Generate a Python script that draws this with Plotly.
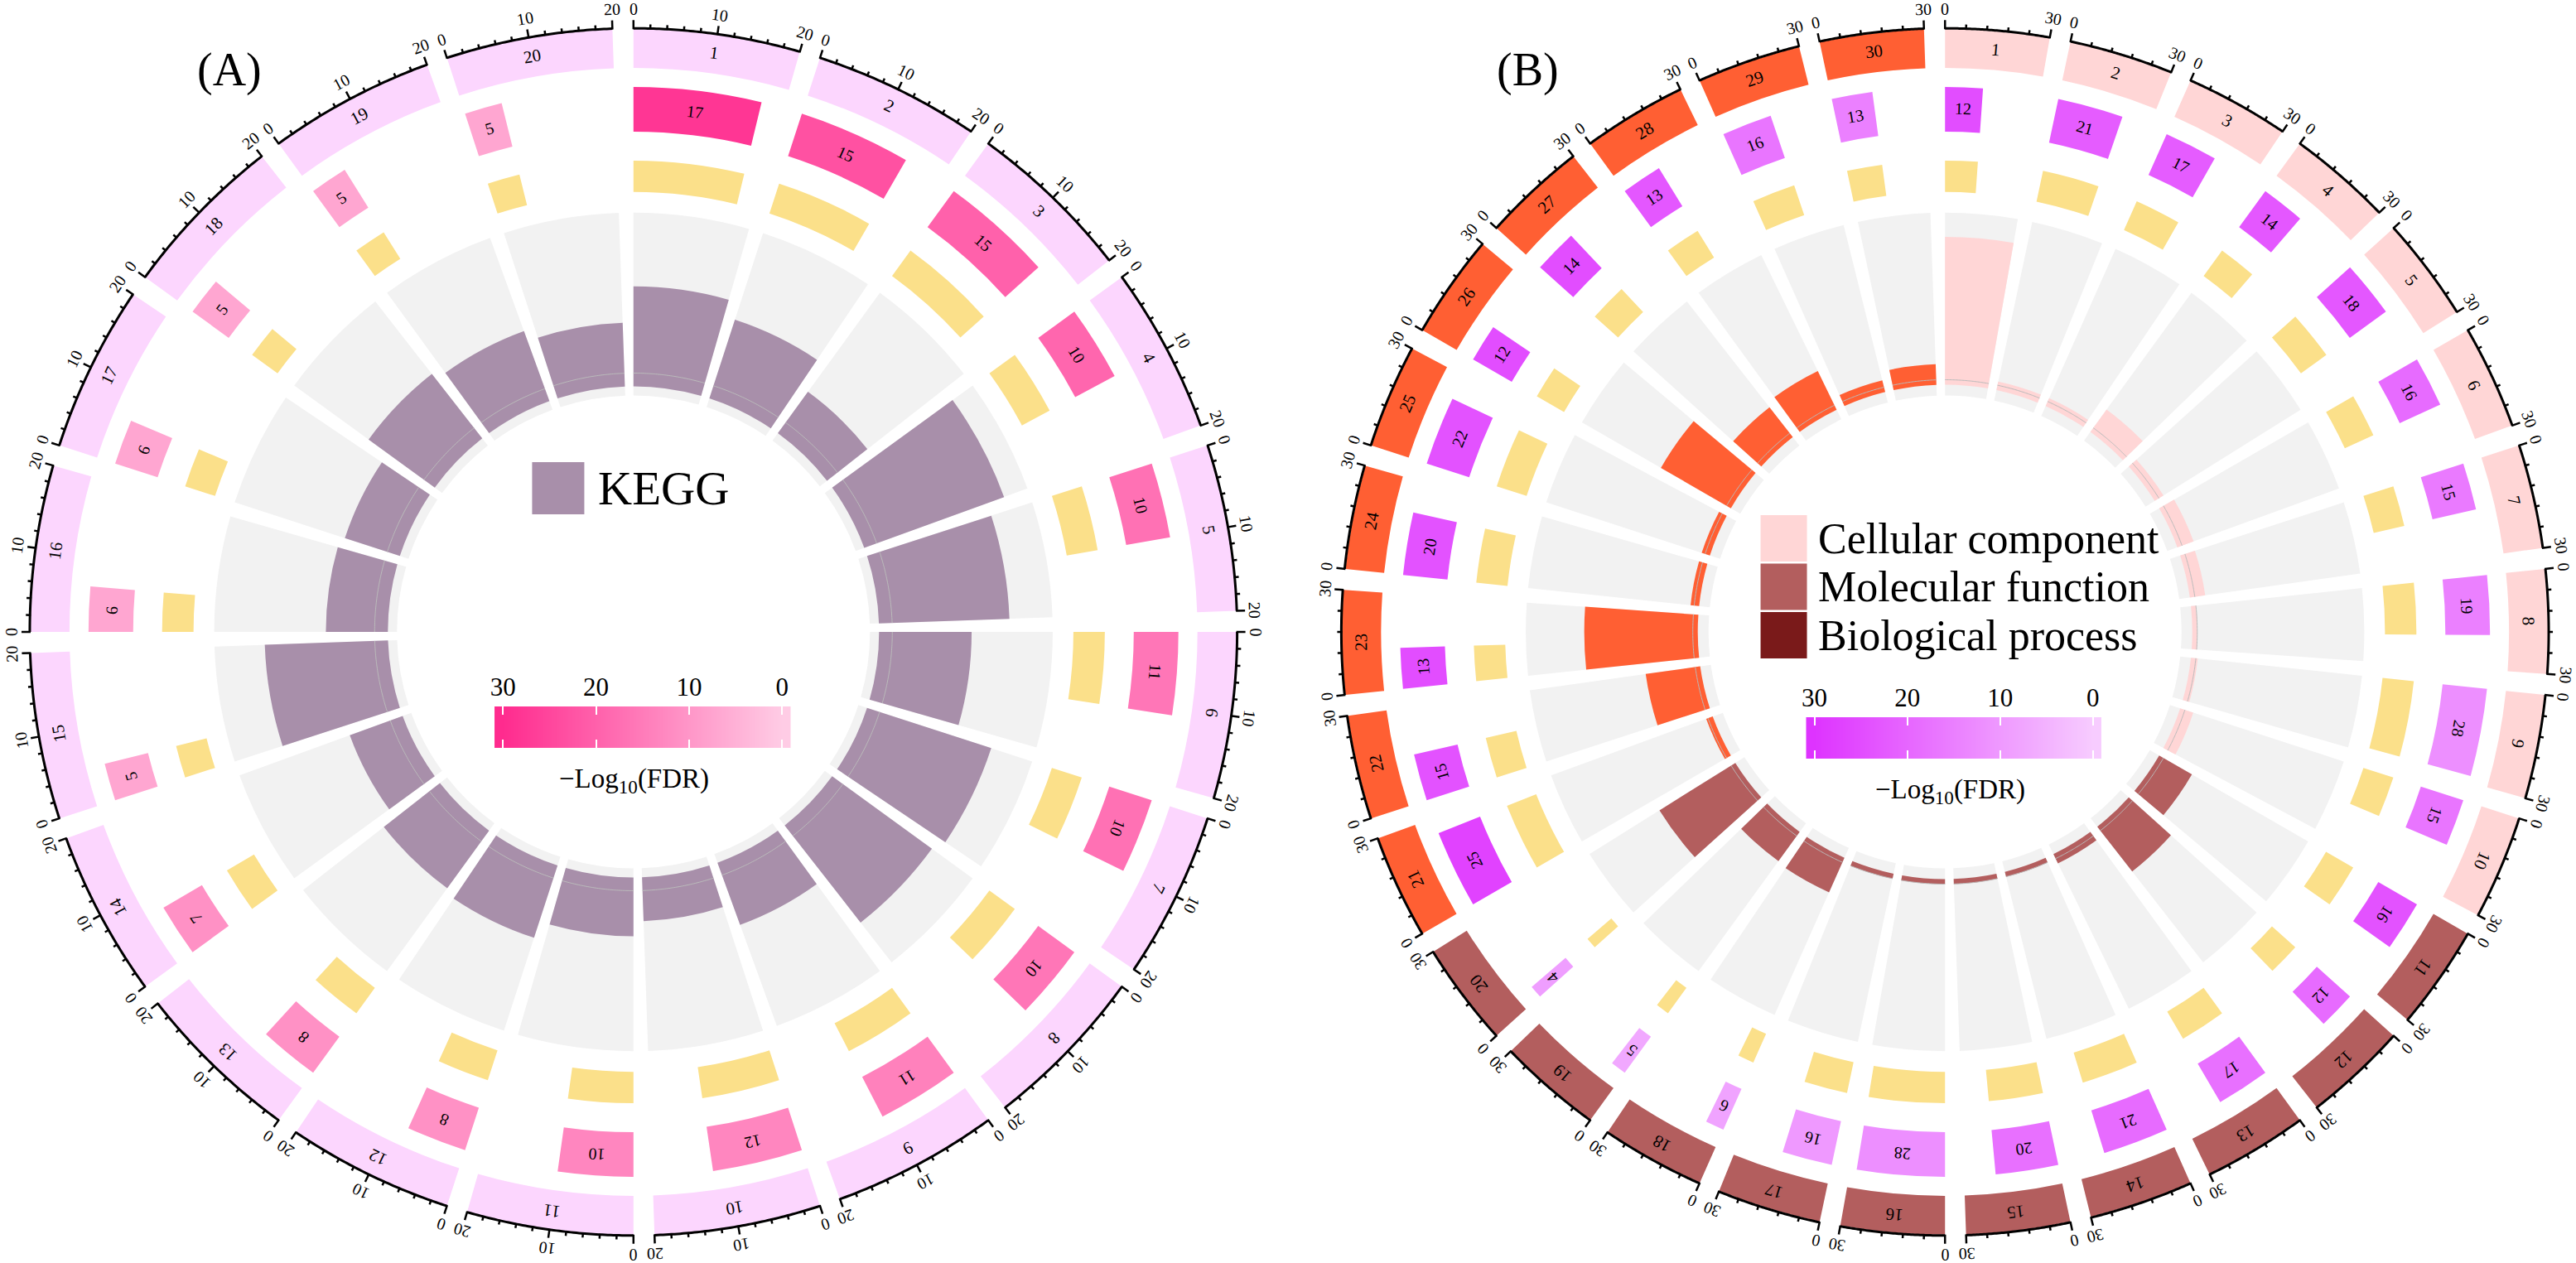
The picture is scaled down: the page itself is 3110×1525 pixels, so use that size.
import numpy as np
import plotly.graph_objects as go

W, H = 3110, 1525
FONT = "Liberation Serif"

# ---------------- data: panel A (KEGG) ----------------
a_terms = [str(i) for i in range(1, 21)]
a_count = [17, 15, 15, 10, 10, 11, 10, 10, 11, 12, 10, 8, 8, 7, 5, 6, 6, 5, 5, 5]
a_up = [17, 15, 15, 10, 10, 11, 10, 10, 11, 12, 10, 8, 8, 7, 5, 6, 6, 5, 5, 5]
a_fdr = [28, 23, 20, 19, 17, 16, 17, 16, 14, 13, 13, 11, 11, 11, 7, 7, 7, 7, 7, 7]
a_rich = [0.576, 0.476, 0.295, 0.857, 0.752, 0.533, 0.752, 0.710, 0.381, 0.252,
          0.338, 0.438, 0.410, 0.324, 0.710, 0.357, 0.333, 0.471, 0.429, 0.367]
a_axis_max = 20
a_tick_labels = [0, 10, 20]
a_tick_step = 2
a_legend = ["KEGG"]

# ---------------- data: panel B (GO) ----------------
b_terms = [str(i) for i in range(1, 31)]
b_class = ["Cellular component"] * 10 + ["Molecular function"] * 10 + ["Biological process"] * 10
b_count = [12, 21, 17, 14, 18, 16, 15, 19, 28, 15,
           16, 12, 17, 21, 20, 28, 16, 6, 5, 4,
           25, 15, 13, 20, 22, 12, 14, 13, 16, 13]
b_up = [12, 21, 17, 14, 18, 16, 15, 19, 28, 15,
        16, 12, 17, 21, 20, 28, 16, 6, 5, 4,
        25, 15, 13, 20, 22, 12, 14, 13, 16, 13]
b_fdr = [25, 22, 22, 23, 23, 19, 16, 15, 12, 17,
         24, 19, 18, 19, 18, 12, 10, 8, 7, 9,
         27, 24, 25, 24, 24, 25, 25, 23, 17, 15]
b_rich = [0.86, 0.05, 0.05, 0.16, 0.06, 0.10, 0.09, 0.03, 0.04, 0.08,
          0.22, 0.33, 0.06, 0.03, 0.03, 0.03, 0.03, 0.22, 0.21, 0.52,
          0.04, 0.32, 0.66, 0.05, 0.05, 0.47, 0.22, 0.25, 0.07, 0.12]
b_axis_max = 30
b_tick_labels = [0, 30]
b_tick_step = 6
b_legend = ["Cellular component", "Molecular function", "Biological process"]

fdr_ticks = [0, 10, 20, 30]

# ---------------- styling ----------------
A_BAND = "#FCD6FE"
A_PURPLE = "#A88FAA"
B_BAND = {"Cellular component": "#FFD6D6", "Molecular function": "#B35E5E",
          "Biological process": "#FF5F33"}
B_LEGEND = {"Cellular component": "#FFD6D6", "Molecular function": "#B35E5E",
            "Biological process": "#7A1A1A"}
YELLOW = "#FBE08A"
TRACK = "#F2F2F2"
A_SCALE = [[0, "#FFCCE5"], [1, "#FF2B8E"]]
B_SCALE = [[0, "#F7CCFF"], [1, "#DE33FF"]]

CY = 763
A_CX, B_CX = 761, 2347
R = 760
GAP = 2.0
R_AXIS = 730
R_BAND = (682, 729)
R_CNT = (605, 659)
R_UP = (532, 570)
R_TRACK = (286, 507)
R_TICKLAB = 752
R_BANDLAB = 706
R_CNTLAB = 632

fig = go.Figure()
annotations = []


def ang(t):
    t = float(t) % 360
    return t if t <= 180 else t - 360


def xy(theta, r):
    t = np.radians(theta)
    return float(r * np.sin(t)), float(r * np.cos(t))


def add_text(xa, ya, theta, r, text, size):
    x, y = xy(theta, r)
    annotations.append(dict(x=x, y=y, xref=xa, yref=ya, text=text, showarrow=False,
                            textangle=ang(theta), xanchor="center", yanchor="middle",
                            font=dict(family=FONT, size=size, color="black")))


def add_panel(sub, xa, ya, terms, band_colors, count, up, fdr, rich, rich_colors,
              axis_max, tick_labels, tick_step, cscale, bar_base, line_r):
    n = len(terms)
    step = 360.0 / n
    span = step - GAP
    starts = np.arange(n) * step
    centers = starts + span / 2
    cw = np.array(count) / axis_max * span
    uw = np.array(up) / axis_max * span

    def bp(theta, width, base, r, marker):
        marker = dict(marker)
        marker["line"] = dict(width=0)
        fig.add_trace(go.Barpolar(theta=list(theta), width=list(width), base=list(base),
                                  r=list(r), subplot=sub, marker=marker,
                                  hoverinfo="skip", showlegend=False))

    # outer band
    bp(centers, [span] * n, [R_BAND[0]] * n, [R_BAND[1] - R_BAND[0]] * n,
       dict(color=band_colors))
    # gene count bars coloured by -log10(FDR)
    bp(starts + cw / 2, cw, [R_CNT[0]] * n, [R_CNT[1] - R_CNT[0]] * n,
       dict(color=fdr, colorscale=cscale, cmin=0, cmax=30))
    # up-regulated bars
    bp(starts + uw / 2, uw, [R_UP[0]] * n, [R_UP[1] - R_UP[0]] * n, dict(color=YELLOW))
    # track background
    bp(centers, [span] * n, [R_TRACK[0]] * n, [R_TRACK[1] - R_TRACK[0]] * n,
       dict(color=TRACK))
    # rich-factor bars
    hh = np.array(rich) * (R_TRACK[1] - bar_base)
    bp(centers, [span] * n, [bar_base] * n, hh, dict(color=rich_colors))

    # thin baseline arcs
    th, rr = [], []
    for s in starts:
        t = np.linspace(s, s + span, 40)
        th += list(t) + [None]
        rr += [line_r] * 40 + [None]
    fig.add_trace(go.Scatterpolar(theta=th, r=rr, mode="lines", subplot=sub,
                                  line=dict(color="#BBBBBB", width=1),
                                  hoverinfo="skip", showlegend=False))
    # axis arcs
    th, rr = [], []
    for s in starts:
        t = np.linspace(s, s + span, 60)
        th += list(t) + [None]
        rr += [R_AXIS] * 60 + [None]
    fig.add_trace(go.Scatterpolar(theta=th, r=rr, mode="lines", subplot=sub,
                                  line=dict(color="black", width=3),
                                  hoverinfo="skip", showlegend=False))
    # ticks
    th, rr = [], []
    for s in starts:
        for v in range(0, axis_max + 1, tick_step):
            t = s + v / axis_max * span
            ln = 10 if v in tick_labels else 5
            th += [t, t, None]
            rr += [R_AXIS - 1, R_AXIS + ln, None]
        for v in tick_labels:
            add_text(xa, ya, s + v / axis_max * span, R_TICKLAB, str(v), 20)
    fig.add_trace(go.Scatterpolar(theta=th, r=rr, mode="lines", subplot=sub,
                                  line=dict(color="black", width=2.5),
                                  hoverinfo="skip", showlegend=False))
    # labels
    for i in range(n):
        add_text(xa, ya, centers[i], R_BANDLAB, terms[i], 21)
        add_text(xa, ya, starts[i] + cw[i] / 2, R_CNTLAB, str(count[i]), 20)


add_panel("polar", "x", "y", a_terms, [A_BAND] * len(a_terms), a_count, a_up, a_fdr,
          a_rich, [A_PURPLE] * len(a_terms), a_axis_max, a_tick_labels, a_tick_step,
          A_SCALE, 297, 313)
add_panel("polar2", "x2", "y2", b_terms, [B_BAND[c] for c in b_class], b_count, b_up,
          b_fdr, b_rich, [B_BAND[c] for c in b_class], b_axis_max, b_tick_labels,
          b_tick_step, B_SCALE, 299, 305)

# ---------------- legends (inside the circles) ----------------
fig.add_trace(go.Scatter(x=[670 - A_CX], y=[CY - 589.5], mode="markers", xaxis="x", yaxis="y",
                         marker=dict(symbol="square", size=63, color=A_PURPLE,
                                     line=dict(width=0)),
                         hoverinfo="skip", showlegend=False))
annotations.append(dict(x=716 - A_CX, y=CY - 589.5, xref="x", yref="y", text=a_legend[0],
                        showarrow=False, xanchor="left", yanchor="middle",
                        font=dict(family=FONT, size=57, color="black")))

b_leg_y = [650, 708.5, 767]
fig.add_trace(go.Scatter(x=[2152 - B_CX] * 3, y=[CY - v for v in b_leg_y], mode="markers",
                         xaxis="x2", yaxis="y2",
                         marker=dict(symbol="square", size=56,
                                     color=[B_LEGEND[c] for c in b_legend],
                                     line=dict(width=0)),
                         hoverinfo="skip", showlegend=False))
for name, yy in zip(b_legend, b_leg_y):
    annotations.append(dict(x=2192 - B_CX, y=CY - yy, xref="x2", yref="y2", text=name,
                            showarrow=False, xanchor="left", yanchor="middle",
                            font=dict(family=FONT, size=52, color="black")))

# ---------------- colour bars ----------------
grad = np.linspace(-0.9, 30.9, 320)
for (xa, ya, cs) in [("x3", "y3", A_SCALE), ("x4", "y4", B_SCALE)]:
    fig.add_trace(go.Heatmap(x=grad, y=[0], z=[np.clip(grad, 0, 30)], colorscale=cs,
                             zmin=0, zmax=30, showscale=False, xaxis=xa, yaxis=ya,
                             hoverinfo="skip"))

title_txt = "\u2212Log<sub>10</sub>(FDR)"
annotations.append(dict(x=762 / W, y=1 - 942 / H, xref="paper", yref="paper", text=title_txt,
                        showarrow=False, xanchor="center", yanchor="middle",
                        font=dict(family=FONT, size=33, color="black")))
annotations.append(dict(x=2353 / W, y=1 - 955 / H, xref="paper", yref="paper", text=title_txt,
                        showarrow=False, xanchor="center", yanchor="middle",
                        font=dict(family=FONT, size=33, color="black")))

# panel tags
annotations.append(dict(x=272 / W, y=1 - 85 / H, xref="paper", yref="paper", text="(A)",
                        showarrow=False, xanchor="center", yanchor="middle",
                        font=dict(family=FONT, size=56, color="black")))
annotations.append(dict(x=1842 / W, y=1 - 85 / H, xref="paper", yref="paper", text="(B)",
                        showarrow=False, xanchor="center", yanchor="middle",
                        font=dict(family=FONT, size=56, color="black")))


def dom_x(cx):
    return [(cx - R) / W, (cx + R) / W]


dom_y = [(H - CY - R) / H, (H - CY + R) / H]

hidden = dict(visible=False, range=[-R, R], showgrid=False, zeroline=False, fixedrange=True)
polar_common = dict(bgcolor="rgba(0,0,0,0)", barmode="overlay", hole=0,
                    radialaxis=dict(range=[0, R], visible=False, showgrid=False,
                                    showline=False, showticklabels=False, ticks=""),
                    angularaxis=dict(rotation=90, direction="clockwise", visible=False,
                                     showgrid=False, showline=False, showticklabels=False,
                                     ticks=""))


def cbar_x(x0, x1, anchor):
    return dict(domain=[x0 / W, x1 / W], range=[30.9, -0.9], side="top", anchor=anchor,
                tickvals=fdr_ticks, ticktext=[str(v) for v in fdr_ticks], ticks="inside",
                ticklen=10, tickwidth=2, tickcolor="white", mirror="ticks",
                showgrid=False, zeroline=False, showline=False, ticklabelstandoff=6,
                tickfont=dict(family=FONT, size=31, color="black"), fixedrange=True)


def cbar_y(y0, y1, anchor):
    return dict(domain=[1 - y1 / H, 1 - y0 / H], visible=False, range=[-0.5, 0.5],
                anchor=anchor, fixedrange=True)


fig.update_layout(
    width=W, height=H,
    margin=dict(l=0, r=0, t=0, b=0, pad=0),
    paper_bgcolor="white", plot_bgcolor="rgba(0,0,0,0)",
    showlegend=False,
    polar=dict(domain=dict(x=dom_x(A_CX), y=dom_y), **polar_common),
    polar2=dict(domain=dict(x=dom_x(B_CX), y=dom_y), **polar_common),
    xaxis=dict(domain=dom_x(A_CX), anchor="y", **hidden),
    yaxis=dict(domain=dom_y, anchor="x", **hidden),
    xaxis2=dict(domain=dom_x(B_CX), anchor="y2", **hidden),
    yaxis2=dict(domain=dom_y, anchor="x2", **hidden),
    xaxis3=cbar_x(593, 951, "y3"),
    yaxis3=cbar_y(853, 903, "x3"),
    xaxis4=cbar_x(2179, 2536, "y4"),
    yaxis4=cbar_y(866, 916, "x4"),
    annotations=annotations,
    font=dict(family=FONT),
)

fig.write_html("out.html", config={"displayModeBar": False, "staticPlot": True},
               post_script="document.body.style.margin='0';document.body.style.overflow='hidden';")
